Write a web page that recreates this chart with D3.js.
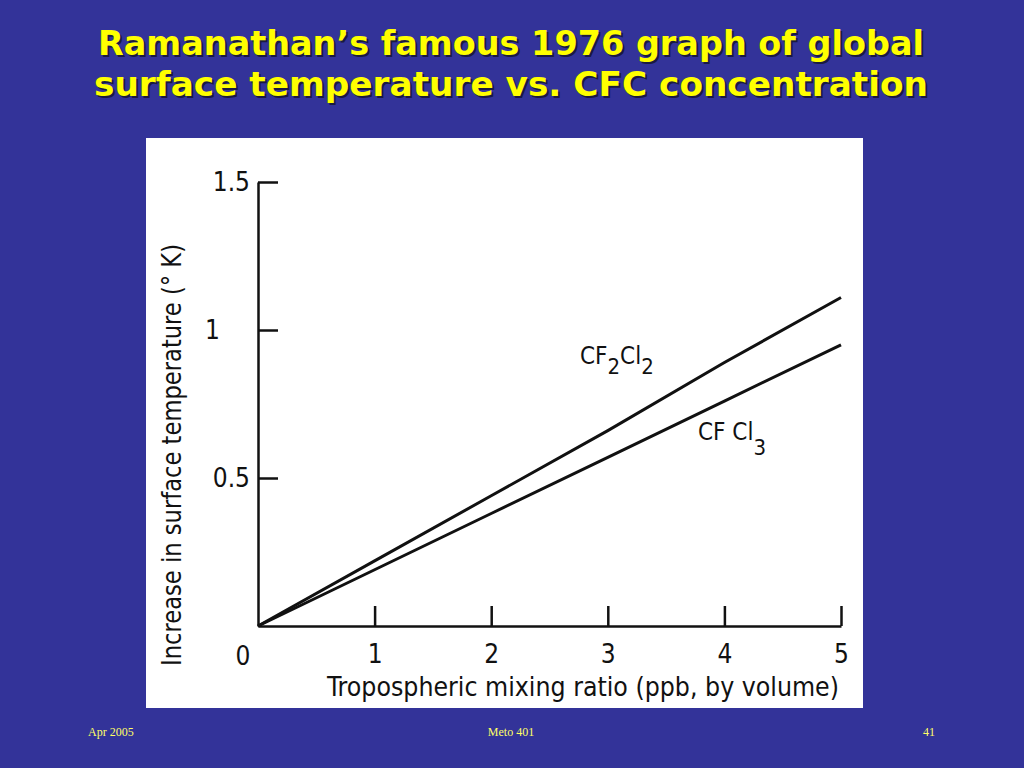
<!DOCTYPE html>
<html><head><meta charset="utf-8">
<script src="https://cdn.jsdelivr.net/npm/d3@7"></script>
<style>html,body{margin:0;padding:0;background:#333399;}svg{display:block;}</style>
</head><body>
<script>
// Data
const mixingRatio = [0, 1, 2, 3, 4, 5];
const cf2cl2 = [0, 0.22, 0.44, 0.66, 0.89, 1.11];
const cfcl3 = [0, 0.19, 0.38, 0.57, 0.76, 0.95];
const xTicks = [1, 2, 3, 4, 5];
const yTicks = [0.5, 1, 1.5];
const titleLines = ["Ramanathan\u2019s famous 1976 graph of global", "surface temperature vs. CFC concentration"];

const W = 1024, H = 768;
const svg = d3.select("body").append("svg").attr("width", W).attr("height", H);
svg.append("rect").attr("width", W).attr("height", H).attr("fill", "#333399");

// Title
const titleFont = "'Comic Sans MS','DejaVu Sans',sans-serif";
titleLines.forEach((t, i) => {
  const yb = 55 + i * 41;
  svg.append("text").attr("x", 513).attr("y", yb + 2).attr("text-anchor", "middle")
    .attr("font-family", titleFont).attr("font-weight", "bold").attr("font-size", 33)
    .attr("textLength", i === 0 ? 826 : 834).attr("lengthAdjust", "spacingAndGlyphs")
    .attr("fill", "#1a1a40").text(t);
  svg.append("text").attr("x", 511).attr("y", yb).attr("text-anchor", "middle")
    .attr("font-family", titleFont).attr("font-weight", "bold").attr("font-size", 33)
    .attr("textLength", i === 0 ? 826 : 834).attr("lengthAdjust", "spacingAndGlyphs")
    .attr("fill", "#ffff00").text(t);
});

// White panel
svg.append("rect").attr("x", 146).attr("y", 138).attr("width", 717).attr("height", 570).attr("fill", "#ffffff");

const x = d3.scaleLinear().domain([0, 5]).range([258, 841]);
const y = d3.scaleLinear().domain([0, 1.5]).range([626, 182]);
const chartFont = "'Liberation Sans Narrow','DejaVu Sans Condensed','Liberation Sans',sans-serif";

// X axis
const gx = svg.append("g").attr("transform", `translate(0,${y(0)})`)
  .call(d3.axisBottom(x).tickValues(xTicks).tickFormat(d3.format("d")).tickSizeInner(-20).tickSizeOuter(0).tickPadding(14));
gx.select(".domain").attr("stroke", "#111").attr("stroke-width", 2.5);
gx.selectAll(".tick line").attr("stroke", "#111").attr("stroke-width", 2.5);
gx.selectAll(".tick text").attr("font-family", chartFont).attr("font-size", 26).attr("fill", "#111").attr("dy", "0.9em");
svg.append("text").attr("x", x(0) - 15).attr("y", 665).attr("text-anchor", "middle")
  .attr("font-family", chartFont).attr("font-size", 26).attr("fill", "#111").text("0");

// Y axis
const gy = svg.append("g").attr("transform", `translate(${x(0)},0)`)
  .call(d3.axisLeft(y).tickValues(yTicks).tickSizeInner(-20).tickSizeOuter(0).tickPadding(8)
    .tickFormat(d => d === 1 ? "1" : d3.format(".1f")(d)));
gy.select(".domain").attr("stroke", "#111").attr("stroke-width", 2.5);
gy.selectAll(".tick line").attr("stroke", "#111").attr("stroke-width", 2.5);
gy.selectAll(".tick text").attr("font-family", chartFont).attr("font-size", 26).attr("fill", "#111")
  .attr("dx", d => d === 1 ? -30 : 0);

// Lines
const line = d3.line().x((d, i) => x(mixingRatio[i])).y(d => y(d));
svg.append("path").datum(cf2cl2).attr("d", line).attr("fill", "none").attr("stroke", "#111").attr("stroke-width", 3);
svg.append("path").datum(cfcl3).attr("d", line).attr("fill", "none").attr("stroke", "#111").attr("stroke-width", 3);

// Series labels
const lab1 = svg.append("text").attr("x", 580).attr("y", 364).attr("font-family", chartFont).attr("font-size", 24).attr("fill", "#111");
lab1.append("tspan").text("CF");
lab1.append("tspan").attr("dy", 10).attr("font-size", 22).text("2");
lab1.append("tspan").attr("dy", -10).text("Cl");
lab1.append("tspan").attr("dy", 10).attr("font-size", 22).text("2");
const lab2 = svg.append("text").attr("x", 698).attr("y", 440).attr("font-family", chartFont).attr("font-size", 24).attr("fill", "#111");
lab2.append("tspan").text("CF Cl");
lab2.append("tspan").attr("dy", 15).attr("font-size", 22).text("3");

// Axis titles
svg.append("text").attr("x", 583).attr("y", 696).attr("text-anchor", "middle")
  .attr("font-family", chartFont).attr("font-size", 27).attr("fill", "#111")
  .attr("textLength", 512).attr("lengthAdjust", "spacingAndGlyphs")
  .text("Tropospheric mixing ratio (ppb, by volume)");
svg.append("text").attr("transform", "translate(181,455) rotate(-90)").attr("text-anchor", "middle")
  .attr("font-family", chartFont).attr("font-size", 27).attr("fill", "#111")
  .attr("textLength", 422).attr("lengthAdjust", "spacingAndGlyphs")
  .text("Increase in surface temperature (\u00b0 K)");

// Footer
const footFont = "'Liberation Serif','Times New Roman',serif";
svg.append("text").attr("x", 88).attr("y", 736).attr("font-family", footFont).attr("font-size", 12).attr("fill", "#ffff66").text("Apr 2005");
svg.append("text").attr("x", 511).attr("y", 736).attr("text-anchor", "middle").attr("font-family", footFont).attr("font-size", 12).attr("fill", "#ffff66").text("Meto 401");
svg.append("text").attr("x", 935).attr("y", 736).attr("text-anchor", "end").attr("font-family", footFont).attr("font-size", 12).attr("fill", "#ffff66").text("41");
</script>
</body></html>
